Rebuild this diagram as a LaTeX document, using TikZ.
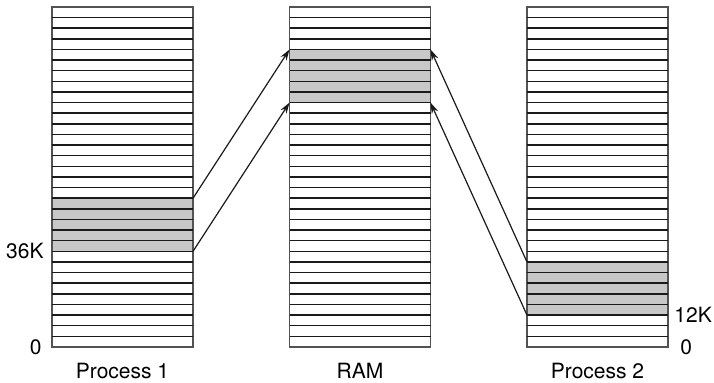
\documentclass[tikz,border=0pt]{standalone}
\usepackage{fontspec}
\setmainfont{TeX Gyre Heros}
\usetikzlibrary{arrows.meta,positioning,calc,backgrounds}
\definecolor{pagefill}{HTML}{C8C8C8}
\definecolor{ink}{HTML}{1A1A1A}
\newcommand{\rowh}{5.3125pt}
\tikzset{
  memcol/.style={draw=ink!75,line width=0.6pt,minimum width=70.5pt,minimum height=170pt,inner sep=0pt,outer sep=0pt},
  stripe/.style={draw=ink,line width=0.75pt},
  pageband/.style={fill=pagefill},
  maparrow/.style={-{Stealth[length=5.5pt,width=3.5pt]},line width=0.6pt,draw=ink},
  colname/.style={font=\fontsize{10.5}{12}\selectfont,inner sep=0pt},
  addr/.style={font=\fontsize{10.5}{12}\selectfont,inner sep=0pt},
}

\begin{document}
\begin{tikzpicture}[node distance=48.25pt]
  \useasboundingbox (-26pt,-18pt) rectangle (331pt,173.5pt);
  % memory columns
  \node[memcol,anchor=south west] (p1) at (0,0) {};
  \node[memcol,right=of p1] (ram) {};
  \node[memcol,right=of ram] (p2) {};
  \foreach \c/\lo in {p1/9,ram/23,p2/3} {
    \begin{scope}[on background layer]
      \fill[pageband] ($(\c.south west)+(0,\lo*\rowh)$) rectangle ($(\c.south east)+(0,\lo*\rowh+5*\rowh)$);
    \end{scope}
    \foreach \i in {1,...,31}
      \draw[stripe] ($(\c.south west)+(0,\i*\rowh)$) -- ($(\c.south east)+(0,\i*\rowh)$);
  }
  % ends of the mapped pages
  \coordinate (p1hi) at ($(p1.south east)+(0,14*\rowh)$);
  \coordinate (p1lo) at ($(p1.south east)+(0,9*\rowh)$);
  \coordinate (p1k) at ($(p1.south west)+(0,9*\rowh)$);
  \coordinate (ramLhi) at ($(ram.south west)+(0,28*\rowh)$);
  \coordinate (ramLlo) at ($(ram.south west)+(0,23*\rowh)$);
  \coordinate (ramRhi) at ($(ram.south east)+(0,28*\rowh)$);
  \coordinate (ramRlo) at ($(ram.south east)+(0,23*\rowh)$);
  \coordinate (p2hi) at ($(p2.south west)+(0,8*\rowh)$);
  \coordinate (p2lo) at ($(p2.south west)+(0,3*\rowh)$);
  \coordinate (p2k) at ($(p2.south east)+(0,3*\rowh)$);
  % labels
  \node[colname,below=8pt of p1] (n1) {Process 1};
  \node[colname,below=8pt of ram] (nram) {RAM};
  \node[colname,below=8pt of p2] (n2) {Process 2};
  \node[addr,left=4pt of p1k] (a36) {36K};
  \node[addr,left=5pt of p1.south west] (a0l) {0};
  \node[addr,right=3pt of p2k] (a12) {12K};
  \node[addr,right=6pt of p2.south east] (a0r) {0};
  % mappings
  \draw[maparrow] (p1hi) -- (ramLhi);
  \draw[maparrow] (p1lo) -- (ramLlo);
  \draw[maparrow] (p2hi) -- (ramRhi);
  \draw[maparrow] (p2lo) -- (ramRlo);
\end{tikzpicture}
\end{document}
